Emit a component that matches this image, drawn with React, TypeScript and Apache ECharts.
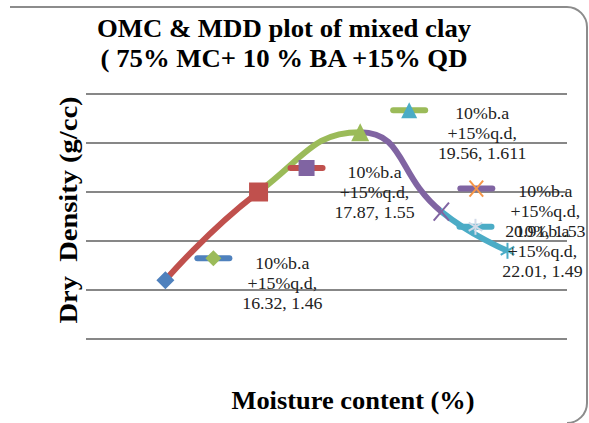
import React, { useEffect, useRef } from "react";
import * as echarts from "echarts";

// ---- data ----
const moisture = [16.32, 17.87, 19.56, 20.91, 22.01];
const dryDensity = [1.46, 1.55, 1.611, 1.53, 1.49];
const seriesLabel = ["10%b.a", "+15%q.d,"];
const yMin = 1.4;
const yMax = 1.65;
const yStep = 0.05;
const xMin = 15;
const xMax = 23;
const titleLines = ["OMC & MDD plot of mixed clay", "( 75% MC+ 10 % BA +15% QD"];
const xTitle = "Moisture content (%)";
const yTitle = "Dry  Density (g/cc)";

// ---- styles ----
const palette = ["#4F81BD", "#C0504D", "#9BBB59", "#8064A2", "#4BACC6", "#F79646", "#D3DBE8"];
const pointShapes = ["diamond", "square", "triangle", "x", "star"];
const pointColors = [palette[0], palette[1], palette[2], palette[3], palette[4]];
const pointSizes = [18, 19, 18, 18, 16];
const keyShapes = ["diamond", "square", "triangle", "x", "star"];
const keyMarkerColors = [palette[2], palette[3], palette[4], palette[5], palette[6]];
const keyOffsets = [[48, -22], [48, -24], [49, -22], [35, -23], [-32, -24]];
const textOffsets = [[117, 3], [116, 0], [122, 1], [104, 0], [35, 0]];
const FONT = '"Liberation Serif", "Times New Roman", serif';
const BORDER = "#8c8c8c";

function marker(kind: string, cx: number, cy: number, s: number, color: string): any {
  const h = s / 2;
  if (kind === "diamond") {
    return { type: "polygon", shape: { points: [[cx, cy - h], [cx + h, cy], [cx, cy + h], [cx - h, cy]] }, style: { fill: color } };
  }
  if (kind === "square") {
    return { type: "rect", shape: { x: cx - h, y: cy - h, width: s, height: s }, style: { fill: color } };
  }
  if (kind === "triangle") {
    return { type: "polygon", shape: { points: [[cx, cy - h], [cx + h, cy + h], [cx - h, cy + h]] }, style: { fill: color } };
  }
  if (kind === "x") {
    const w = h * 0.85;
    return {
      type: "group",
      children: [
        { type: "line", shape: { x1: cx - w, y1: cy - h, x2: cx + w, y2: cy + h }, style: { stroke: color, lineWidth: 2 } },
        { type: "line", shape: { x1: cx - w, y1: cy + h, x2: cx + w, y2: cy - h }, style: { stroke: color, lineWidth: 2 } },
      ],
    };
  }
  // star (asterisk)
  const d = h * 0.85;
  return {
    type: "group",
    children: [
      { type: "line", shape: { x1: cx, y1: cy - h, x2: cx, y2: cy + h }, style: { stroke: color, lineWidth: 2 } },
      { type: "line", shape: { x1: cx - d, y1: cy - d * 0.6, x2: cx + d, y2: cy + d * 0.6 }, style: { stroke: color, lineWidth: 2 } },
      { type: "line", shape: { x1: cx - d, y1: cy + d * 0.6, x2: cx + d, y2: cy - d * 0.6 }, style: { stroke: color, lineWidth: 2 } },
    ],
  };
}

export default function App() {
  const ref = useRef<HTMLDivElement>(null);
  useEffect(() => {
    if (!ref.current) return;
    const chart = echarts.init(ref.current, undefined, { renderer: "svg" });
    const pairs = moisture.map((x, i) => [x, dryDensity[i]]);
    const pieces = moisture.slice(1).map((x, i) => {
      const p: any = { color: pointColors[i + 1] };
      if (i > 0) p.gte = moisture[i];
      if (i < moisture.length - 2) p.lt = x;
      return p;
    });
    chart.setOption({
      animation: false,
      backgroundColor: "#ffffff",
      grid: { left: 86, right: 22, top: 94, bottom: 84, outerBoundsMode: "none", containLabel: false },
      xAxis: {
        type: "value",
        min: xMin,
        max: xMax,
        axisLine: { show: false },
        axisTick: { show: false },
        axisLabel: { show: false },
        splitLine: { show: false },
      },
      yAxis: {
        type: "value",
        min: yMin,
        max: yMax,
        interval: yStep,
        axisLine: { show: false },
        axisTick: { show: false },
        axisLabel: { show: false },
        splitLine: { show: true, lineStyle: { color: "#878787", width: 2.2 } },
      },
      visualMap: {
        show: false,
        type: "piecewise",
        seriesIndex: 0,
        dimension: 0,
        pieces,
      },
      graphic: [
        {
          type: "text",
          x: 284,
          y: 14,
          scaleX: 1.07,
          style: {
            text: titleLines.join("\n"),
            font: `bold 25px ${FONT}`,
            fill: "#000",
            align: "center",
            verticalAlign: "top",
            lineHeight: 30,
          },
        },
        {
          type: "text",
          x: 353,
          y: 401,
          scaleX: 1.057,
          style: {
            text: xTitle,
            font: `bold 25px ${FONT}`,
            fill: "#000",
            align: "center",
            verticalAlign: "middle",
          },
        },
        {
          type: "text",
          x: 69,
          y: 210,
          rotation: Math.PI / 2,
          scaleX: 1.14,
          style: {
            text: yTitle,
            font: `bold 25px ${FONT}`,
            fill: "#000",
            align: "center",
            verticalAlign: "middle",
          },
        },
        { type: "line", shape: { x1: 10, y1: 7, x2: 567, y2: 7 }, style: { stroke: BORDER, lineWidth: 2 } },
        { type: "arc", shape: { cx: 567, cy: 27, r: 20, startAngle: -Math.PI / 2, endAngle: 0 }, style: { stroke: BORDER, lineWidth: 2, fill: "none" } },
        { type: "line", shape: { x1: 587, y1: 27, x2: 587, y2: 403 }, style: { stroke: BORDER, lineWidth: 2 } },
        { type: "arc", shape: { cx: 567, cy: 403, r: 20, startAngle: 0, endAngle: Math.PI / 2 }, style: { stroke: BORDER, lineWidth: 2, fill: "none" } },
      ],
      series: [
        {
          type: "line",
          data: pairs,
          smooth: 0.5,
          symbol: "none",
          lineStyle: { width: 6 },
          z: 2,
        },
        {
          type: "custom",
          data: pairs,
          z: 3,
          clip: false,
          renderItem: (params: any, api: any) => {
            const i = params.dataIndex;
            const p = api.coord([api.value(0), api.value(1)]);
            return marker(pointShapes[i], p[0], p[1], pointSizes[i], pointColors[i]);
          },
        },
        {
          type: "custom",
          data: pairs,
          z: 4,
          clip: false,
          renderItem: (params: any, api: any) => {
            const i = params.dataIndex;
            const x = api.value(0);
            const y = api.value(1);
            const p = api.coord([x, y]);
            const kx = p[0] + keyOffsets[i][0];
            const ky = p[1] + keyOffsets[i][1];
            const tx = p[0] + textOffsets[i][0];
            const ty = p[1] + textOffsets[i][1];
            return {
              type: "group",
              children: [
                { type: "line", shape: { x1: kx - 16, y1: ky, x2: kx + 16, y2: ky }, style: { stroke: pointColors[i], lineWidth: 6, lineCap: "round" } },
                marker(keyShapes[i], kx, ky, 16, keyMarkerColors[i]),
                {
                  type: "text",
                  x: tx,
                  y: ty,
                  scaleX: 1.05,
                  style: {
                    text: [...seriesLabel, `${x}, ${y}`].join("\n"),
                    font: `17px ${FONT}`,
                    fill: "#222",
                    align: "center",
                    verticalAlign: "middle",
                    lineHeight: 20,
                  },
                },
              ],
            };
          },
        },
      ],
    });
    return () => chart.dispose();
  }, []);
  return <div ref={ref} style={{ position: "fixed", left: 0, top: 0, width: 589, height: 423 }} />;
}
